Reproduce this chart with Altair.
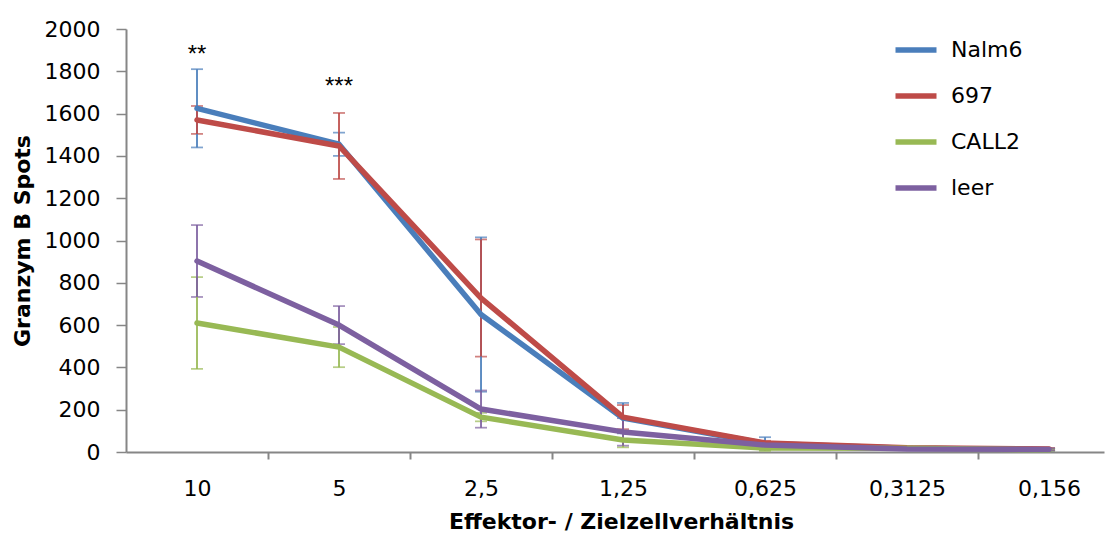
import altair as alt
import pandas as pd

categories = ["10", "5", "2,5", "1,25", "0,625", "0,3125", "0,156"]
series_names = ["Nalm6", "697", "CALL2", "leer"]
colors = ["#4A7EBB", "#BE4B48", "#98B954", "#7D60A0"]

nalm6 = [1625, 1455, 650, 160, 40, 18, 12]
nalm6_err = [185, 55, 365, 72, 30, 5, 5]
r697 = [1570, 1447, 728, 165, 43, 20, 14]
r697_err = [66, 156, 277, 57, 10, 5, 5]
call2 = [610, 496, 165, 57, 19, 18, 10]
call2_err = [217, 95, 20, 35, 14, 5, 5]
leer = [903, 600, 203, 95, 33, 14, 12]
leer_err = [170, 90, 88, 65, 10, 5, 5]

sig_labels = ["**", "***"]
sig_cat = [0, 1]
sig_value = [1845, 1694]

y_ticks = list(range(0, 2001, 200))

values = [nalm6, r697, call2, leer]
errors = [nalm6_err, r697_err, call2_err, leer_err]
rows = []
for s, vals, errs in zip(series_names, values, errors):
    for i, (v, e) in enumerate(zip(vals, errs)):
        rows.append({"idx": i, "cat": categories[i], "series": s,
                     "value": v, "lo": max(v - e, 0), "hi": v + e})
df = pd.DataFrame(rows)
sig_df = pd.DataFrame({"idx": sig_cat, "value": sig_value, "label": sig_labels})

FONT = "DejaVu Sans"
GRAY = "#868686"

arr = "[" + ",".join("'%s'" % c for c in categories) + "]"
x_axis = alt.Axis(
    values=[i * 0.5 for i in range(0, 13)],
    labelExpr="datum.value % 1 === 0 ? " + arr + "[datum.value] : ''",
    tickColor={"condition": {"test": "datum.value % 1 === 0", "value": "transparent"},
               "value": GRAY},
    tickSize=7, tickWidth=2, domainColor=GRAY, domainWidth=2,
    labelPadding=19, labelOverlap=False, labelFlush=False, labelBound=False,
    titlePadding=12, titleX=495, grid=False,
)
y_axis = alt.Axis(
    values=y_ticks, format="d", tickSize=10, tickWidth=1.5, tickColor=GRAY,
    domainColor=GRAY, domainWidth=2, labelPadding=16, titlePadding=10, grid=False,
)
x_enc = alt.X("idx:Q", scale=alt.Scale(domain=[-0.5, 6.387], nice=False, zero=False),
              axis=x_axis, title="Effektor- / Zielzellverhältnis")
y_scale = alt.Scale(domain=[0, 2000], nice=False)
color_enc = alt.Color(
    "series:N",
    scale=alt.Scale(domain=series_names, range=colors),
    legend=alt.Legend(
        orient="none", legendX=779, legendY=10, title=None,
        symbolType="M-4.1,0H4.1", symbolSize=100, symbolStrokeWidth=5.5,
        symbolOpacity=1,
        labelFont=FONT, labelFontSize=22, labelColor="black",
        labelOffset=24, rowPadding=24, padding=0,
    ),
)

base = alt.Chart(df)
errbars = base.mark_errorbar(ticks=True, size=12, thickness=1.75).encode(
    x=x_enc,
    y=alt.Y("lo:Q", scale=y_scale, axis=y_axis, title="Granzym B Spots"),
    y2="hi:Q",
    color=color_enc,
)
lines = base.mark_line(strokeWidth=5.5, strokeCap="round", strokeJoin="round").encode(
    x=x_enc,
    y=alt.Y("value:Q", scale=y_scale, axis=y_axis, title="Granzym B Spots"),
    color=color_enc,
    detail="series:N",
)
sig = alt.Chart(sig_df).mark_text(font="Liberation Sans", fontSize=24,
                                  baseline="alphabetic", fill="black").encode(
    x=alt.X("idx:Q"),
    y=alt.Y("value:Q"),
    text="label:N",
)

chart = alt.layer(errbars, lines, sig).properties(
    width=978, height=423,
    padding={"left": 126, "top": 29, "right": 1, "bottom": 82},
    autosize=alt.AutoSizeParams(type="none"),
).configure_view(stroke=None).configure_axis(
    labelFont=FONT, labelFontSize=22, labelColor="black",
    titleFont=FONT, titleFontSize=22, titleFontWeight="bold", titleColor="black",
)

chart.save("out.html", embed_options={"renderer": "svg", "actions": False})
